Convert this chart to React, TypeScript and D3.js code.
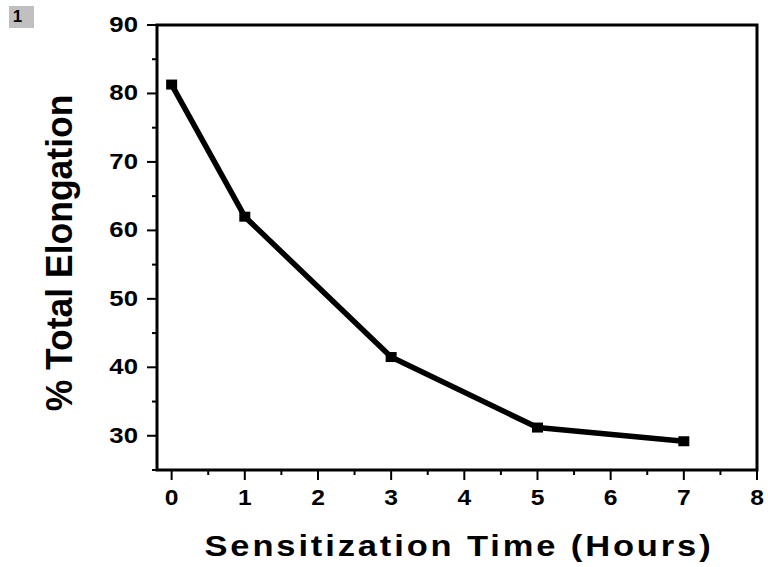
import React from "react";
import * as d3 from "d3";

const hours = [0, 1, 3, 5, 7];
const elongation = [81.3, 62.0, 41.5, 31.2, 29.2];
const xTicks = [0, 1, 2, 3, 4, 5, 6, 7, 8];
const yTicks = [30, 40, 50, 60, 70, 80, 90];
const xMinor = [0.5, 1.5, 2.5, 3.5, 4.5, 5.5, 6.5, 7.5];
const yMinor = [25, 35, 45, 55, 65, 75, 85];

export default function App() {
  const W = 768, H = 567;
  const L = 157, R = 757, T = 25, B = 470;
  const x = d3.scaleLinear().domain([-0.2, 8]).range([L, R]);
  const y = d3.scaleLinear().domain([25, 90]).range([B, T]);
  const line = d3.line<number>().x((_, i) => x(hours[i])).y((d) => y(d));
  const font = "'Liberation Sans', Arial, sans-serif";
  return (
    <svg width={W} height={H} style={{ position: "absolute", left: 0, top: 0 }}>
      <rect x={0} y={0} width={W} height={H} fill="#fff" />
      <rect x={9} y={6} width={25} height={22} fill="#c0c0c0" />
      <text x={17.5} y={22} textAnchor="middle" fontFamily={font} fontWeight="bold" fontSize={17}>1</text>
      {/* frame */}
      <rect x={L} y={T} width={R - L} height={B - T} fill="none" stroke="#000" strokeWidth={3} />
      {/* y ticks */}
      {yTicks.map((t) => (
        <g key={"y" + t}>
          <line x1={L - 10} x2={L} y1={y(t)} y2={y(t)} stroke="#000" strokeWidth={2} />
          <text transform={`translate(${L - 19},${y(t) - 1.5}) scale(1.12,1)`} dy="0.36em" textAnchor="end" fontFamily={font} fontWeight="bold" fontSize={23}>{t}</text>
        </g>
      ))}
      {yMinor.map((t) => (
        <line key={"ym" + t} x1={L - 5} x2={L} y1={y(t)} y2={y(t)} stroke="#000" strokeWidth={2} />
      ))}
      {xTicks.map((t) => (
        <g key={"x" + t}>
          <line x1={x(t)} x2={x(t)} y1={B} y2={B + 10} stroke="#000" strokeWidth={2} />
          <text transform={`translate(${x(t)},505) scale(1.12,1)`} textAnchor="middle" fontFamily={font} fontWeight="bold" fontSize={22}>{t}</text>
        </g>
      ))}
      {xMinor.map((t) => (
        <line key={"xm" + t} x1={x(t)} x2={x(t)} y1={B} y2={B + 5} stroke="#000" strokeWidth={2} />
      ))}
      <path d={line(elongation) || ""} fill="none" stroke="#000" strokeWidth={5.5} strokeLinejoin="round" />
      {elongation.map((v, i) => (
        <rect key={"m" + i} x={x(hours[i]) - 5.5} y={y(v) - 5} width={11} height={10} fill="#000" />
      ))}
      <text transform="translate(459,556) scale(1.15,1)" textAnchor="middle" fontFamily={font} fontWeight="bold" fontSize={30} letterSpacing={2.5}>Sensitization Time (Hours)</text>
      <text transform={`translate(72,253) rotate(-90) scale(1,1.04)`} textAnchor="middle" fontFamily={font} fontWeight="bold" fontSize={35.5}>% Total Elongation</text>
    </svg>
  );
}
